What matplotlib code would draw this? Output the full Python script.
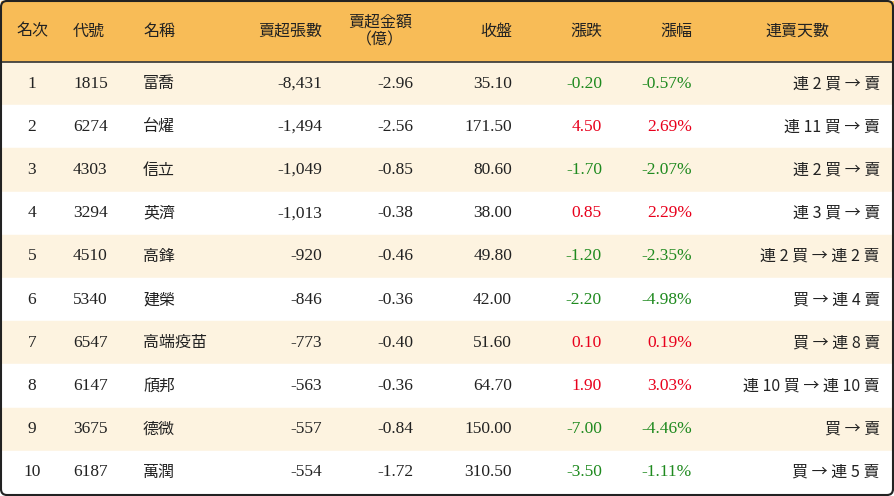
import matplotlib
matplotlib.use("Agg")
import matplotlib.pyplot as plt
from matplotlib.patches import Rectangle, FancyBboxPatch
from matplotlib import font_manager as fm

ranks = [1,2,3,4,5,6,7,8,9,10]
codes = ["1815","6274","4303","3294","4510","5340","6547","6147","3675","6187"]
names = ["富喬","台燿","信立","英濟","高鋒","建榮","高端疫苗","頎邦","德微","萬潤"]
net_sell_lots = ["-8,431","-1,494","-1,049","-1,013","-920","-846","-773","-563","-557","-554"]
net_sell_amt = ["-2.96","-2.56","-0.85","-0.38","-0.46","-0.36","-0.40","-0.36","-0.84","-1.72"]
close = ["35.10","171.50","80.60","38.00","49.80","42.00","51.60","64.70","150.00","310.50"]
change = ["-0.20","4.50","-1.70","0.85","-1.20","-2.20","0.10","1.90","-7.00","-3.50"]
pct = ["-0.57%","2.69%","-2.07%","2.29%","-2.35%","-4.98%","0.19%","3.03%","-4.46%","-1.11%"]
streak = ["連 2 買 → 賣","連 11 買 → 賣","連 2 買 → 賣","連 3 買 → 賣","連 2 買 → 連 2 賣",
          "買 → 連 4 賣","買 → 連 8 賣","連 10 買 → 連 10 賣","買 → 賣","買 → 連 5 賣"]
headers = ["名次","代號","名稱","賣超張數","賣超金額\n（億）","收盤","漲跌","漲幅","連賣天數"]

avail = {f.name for f in fm.fontManager.ttflist}
cjk = next((n for n in ["Noto Sans CJK TC","Noto Sans CJK JP","Noto Sans CJK SC","Noto Sans CJK KR"] if n in avail), "DejaVu Sans")
SERIF = "Liberation Serif"

def fam(s):
    return cjk if any(ord(ch) > 0x2E80 for ch in s) else SERIF

W, H = 894, 496
fig = plt.figure(figsize=(W/100, H/100), dpi=100)
ax = fig.add_axes([0, 0, 1, 1])
ax.set_xlim(0, W); ax.set_ylim(H, 0); ax.axis("off")

hdr_h = 62
row_h = (H - 2 - hdr_h) / 10
ax.add_patch(Rectangle((1, 1), W-2, hdr_h-1, color="#F8BC57", zorder=0))
for i in range(10):
    y0 = hdr_h + i*row_h
    ax.add_patch(Rectangle((1, y0), W-2, row_h, color="#FDF3E0" if i % 2 == 0 else "white", zorder=0))
ax.plot([1, W-1], [hdr_h, hdr_h], color="#333333", lw=1.2)
ax.add_patch(FancyBboxPatch((1, 1), W-2, H-2, boxstyle="round,pad=0,rounding_size=6",
                            fill=False, ec="#222222", lw=1.5, zorder=5))

cols = [(32,"center"),(73,"left"),(143,"left"),(322,"right"),(413,"right"),
        (512,"right"),(602,"right"),(692,"right"),(880,"right")]
hdr_pos = [(32,"center"),(73,"left"),(143,"left"),(322,"right"),(380,"center"),
           (512,"right"),(602,"right"),(692,"right"),(797,"center")]
for (x, ha), t in zip(hdr_pos, headers):
    ax.text(x, 31, t, ha=ha, va="center", fontsize=11.5, color="#222222",
            linespacing=1.0, fontfamily=fam(t), multialignment="center")

green, red = "#1F8A1F", "#E8001C"
for i in range(10):
    yc = hdr_h + (i+0.5)*row_h
    c = green if change[i].startswith("-") else red
    vals = [str(ranks[i]), codes[i], names[i], net_sell_lots[i], net_sell_amt[i],
            close[i], change[i], pct[i], streak[i]]
    colors = ["#222222"]*6 + [c, c, "#222222"]
    for (x, ha), v, col in zip(cols, vals, colors):
        fs = 11.5 if fam(v) == cjk else 12.5
        ax.text(x, yc, v, ha=ha, va="center", fontsize=fs, color=col, fontfamily=fam(v))

fig.savefig("out.png", dpi=100)
